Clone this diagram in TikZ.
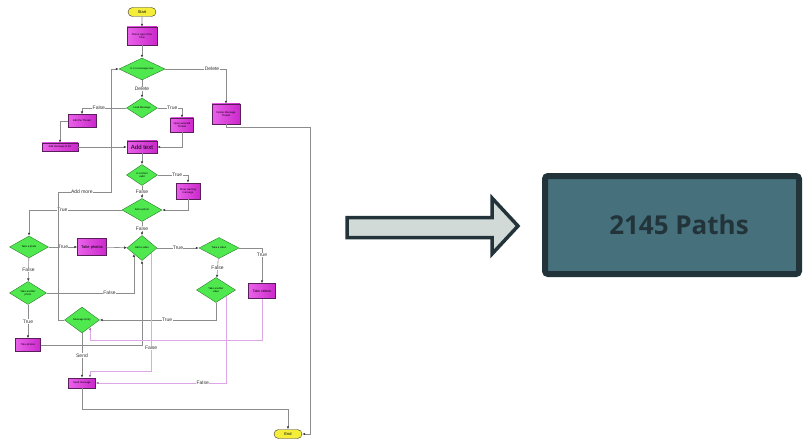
\documentclass[tikz,border=0pt]{standalone}
\usepackage{fontspec}
\setmainfont{Liberation Sans}
\newfontfamily\pathsfont{Open Sans}
\usetikzlibrary{positioning, shapes.geometric, shapes.misc, arrows.meta}

\definecolor{linegray}{HTML}{8C8C8C}
\definecolor{flowpurple}{HTML}{DDA6E6}
\definecolor{taskpink}{HTML}{E22DE2}
\definecolor{taskedge}{HTML}{5A1E5A}
\definecolor{testgreen}{HTML}{4FE84F}
\definecolor{testedge}{HTML}{2D7A2D}
\definecolor{termyellow}{HTML}{F4EE3A}
\definecolor{slate}{HTML}{46707C}
\definecolor{darkslate}{HTML}{22343A}
\definecolor{arrowfill}{HTML}{D2DAD8}

\tikzset{
  term/.style={rounded rectangle, draw=black!80, fill=termyellow, minimum width=28pt,
    minimum height=9pt, inner sep=0pt, font=\fontsize{4}{4}\selectfont},
  task/.style={rectangle, draw=taskedge, left color=taskpink!75!white, right color=taskpink!90!black,
    inner sep=0.5pt, align=center, font=\fontsize{2.6}{3}\selectfont},
  test/.style={diamond, aspect=2, draw=testedge, fill=testgreen, inner sep=0.3pt,
    align=center, font=\fontsize{2.6}{3}\selectfont},
  lbl/.style={fill=white, inner sep=0.4pt, font=\fontsize{5}{5}\selectfont, text=black!80},
  flow/.style={draw=linegray, line width=0.6pt, -{Latex[length=3pt,width=2.6pt,black!75]}},
  alt/.style={flow, draw=flowpurple, -{Latex[length=3pt,width=2.6pt,flowpurple!70!black]}},
  pathbox/.style={rectangle, draw=darkslate, fill=slate, line width=6pt, rounded corners=3pt,
    minimum width=254pt, minimum height=98pt, text=darkslate,
    font=\pathsfont\bfseries\fontsize{26}{26}\selectfont},
}

\begin{document}
\begin{tikzpicture}[x=1pt,y=-1pt,on grid]
  \useasboundingbox (0,0) rectangle (803,441);

  % flowchart
  \node[term] (start) at (142,12) {Start};
  \node[task, minimum width=30pt, minimum height=18pt] (entry) [below=24pt of start] {Phone type of the\\Flow};
  \node[test, minimum width=46pt, minimum height=22pt] (d1) [below=33pt of entry] {Is it a message new};
  \node[task, minimum width=28pt, minimum height=20pt] (delete) [below right=45pt and 84pt of d1] {Delete Message\\Thread};
  \node[test, minimum width=31pt, minimum height=20pt] (d2) [below=39pt of d1] {Load Message};
  \node[task, minimum width=28pt, minimum height=13pt] (edit) [below left=13pt and 60pt of d2] {Edit the Thread};
  \node[task, minimum width=36pt, minimum height=8pt] (addmsg) [below left=39pt and 82pt of d2] {Add message to list};
  \node[task, minimum width=23pt, minimum height=14pt] (open) [below right=17pt and 40pt of d2] {Open selected\\Thread};
  \node[task, minimum width=30pt, minimum height=12pt, font=\fontsize{6}{6}\selectfont] (addtext) [below=39pt of d2] {Add text};
  \node[test, minimum width=31pt, minimum height=21pt] (d3) [below=28pt of addtext] {Is content\\valid};
  \node[task, minimum width=24pt, minimum height=16pt] (warn) [below right=16pt and 46pt of d3] {Show warning\\message};
  \node[test, minimum width=40pt, minimum height=23pt] (d4) [below=35pt of d3] {Add a photo};
  \node[test, minimum width=39pt, minimum height=22pt] (d5) [below left=37pt and 113pt of d4] {Take a photo};
  \node[task, minimum width=29pt, minimum height=17pt, font=\fontsize{4}{4}\selectfont] (photos) [right=63pt of d5] {Take photos};
  \node[test, minimum width=30pt, minimum height=25pt] (d6) [below=38pt of d4] {Add a video};
  \node[test, minimum width=40pt, minimum height=21pt] (d7) [right=77pt of d6] {Take a video};
  \node[task, minimum width=27pt, minimum height=15pt, font=\fontsize{3.5}{4}\selectfont] (videos) [below right=43pt and 43pt of d7] {Take videos};
  \node[test, minimum width=39pt, minimum height=25pt] (d8) [below left=42pt and 3pt of d7] {Take another\\video};
  \node[test, minimum width=37pt, minimum height=23pt] (d9) [below left=46pt and 1pt of d5] {Take another\\photo};
  \node[task, minimum width=25pt, minimum height=13pt] (morephotos) [below=52pt of d9] {Take photos};
  \node[test, minimum width=35pt, minimum height=26pt] (d10) [below left=72pt and 60pt of d6] {Message Entry};
  \node[task, minimum width=27pt, minimum height=10pt] (send) [below=63pt of d10] {Send message};
  \node[term] (end) at (288,434) {End};

  \coordinate (loopA) at (58,192);
  \coordinate (loopB) at (111,192);
  \coordinate (sendturn) at (82,409);
  \coordinate (delturn) at (310,127);

  \path[flow]
    (start) edge (entry)
    (entry) edge (d1)
    (d1) edge node[lbl] {Delete} (d2)
    (addmsg) edge (addtext)
    (addtext) edge (d3)
    (d3) edge node[lbl] {False} (d4)
    (d4) edge node[lbl] {False} (d6)
    (d5) edge node[lbl] {True} (photos)
    (photos) edge (d6)
    (d6) edge node[lbl] {True} (d7)
    (d7) edge node[lbl] {False} (d8)
    (d5) edge node[lbl] {False} (d9)
    (d9) edge node[lbl] {True} (morephotos)
    (d10) edge node[lbl] {Send} (send);

  \draw[flow] (d1.east) -| node[lbl, pos=0.385] {Delete} (delete.north);
  \draw[flow] (d2.west) -| node[lbl, pos=0.31] {False} (edit.north);
  \draw[flow] (d2.east) -| node[lbl, pos=0.3] {True} (open.north);
  \draw[flow] (edit.west) -| (addmsg.north);
  \draw[flow] (open.south) |- (addtext.east);
  \draw[flow] (d3.east) -| node[lbl, pos=0.32] {True} (warn.north);
  \draw[flow] (warn.south) |- (d4.east);
  \draw[flow] (d4.west) -| node[lbl, pos=0.32] {True} (d5.north);
  \draw[flow] (d7.east) -| node[lbl, pos=0.6] {True} (videos.north);
  \draw[flow] (d9.east) -| node[lbl, pos=0.36] {False} (d6.-144);
  \draw[flow] (morephotos.east) -| (d6.south);
  \draw[flow] (d8.south) |- node[lbl, pos=0.71] {True} (d10.east);
  \draw[flow] (d10.west) -| (loopA) -- node[lbl, pos=0.45] {Add more} (loopB) |- (d1.west);
  \draw[flow] (send.south) -- (sendturn) -| (end.north);
  \draw[flow] (delete.south) |- (delturn) |- (end.east);

  \draw[alt] (d6.-29) -- node[lbl, pos=0.8] {False} (d6.-29 |- 0,371) -| ([xshift=8pt]send.north);
  \draw[alt] (d8.-31) |- node[lbl, pos=0.59] {False} (send.east);
  \draw[alt] (videos.south) |- ([yshift=-13pt]d10.-41) -- (d10.-41);

  % result
  \draw[line width=3.5pt, draw=darkslate, fill=arrowfill, line join=miter]
    (347,217.5) -- (492,217.5) -- (492,198) -- (518,226) -- (492,254) -- (492,237.5) -- (347,237.5) -- cycle;
  \node[pathbox] (paths) at (672,225) {\hspace*{14pt}2145 Paths};
\end{tikzpicture}
\end{document}
